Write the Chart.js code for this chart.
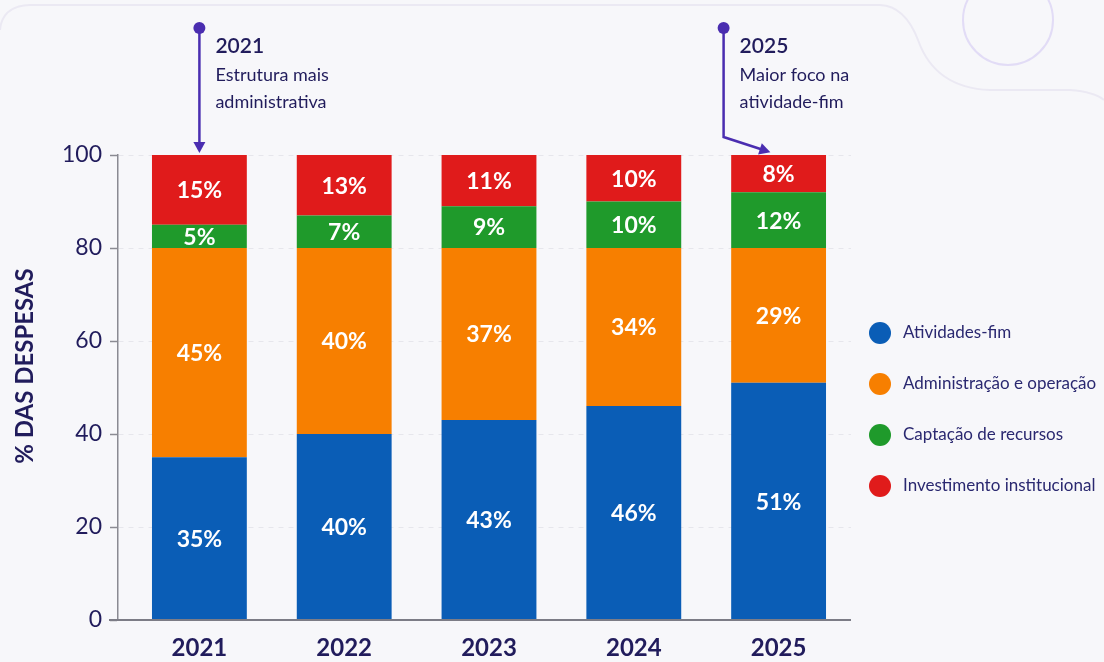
<!DOCTYPE html>
<html>
<head>
<meta charset="utf-8">
<script src="https://cdn.jsdelivr.net/npm/chart.js@4"></script>
<style>
  html, body { margin: 0; padding: 0; background: #f7f7fa; }
  #wrap { width: 1104px; height: 662px; }
</style>
</head>
<body>
<div id="wrap"><canvas id="despesasChart" width="1104" height="662"></canvas></div>
<script>
// Dados do gráfico
const anos = ['2021', '2022', '2023', '2024', '2025'];
const atividadesFim = [35, 40, 43, 46, 51];
const administracao = [45, 40, 37, 34, 29];
const captacao = [5, 7, 9, 10, 12];
const investimento = [15, 13, 11, 10, 8];
const yTicks = [0, 20, 40, 60, 80, 100];
const nomesSeries = ['Atividades-fim', 'Administração e operação', 'Captação de recursos', 'Investimento institucional'];
const notas = [
  { ano: '2021', titulo: '2021', linhas: ['Estrutura mais', 'administrativa'] },
  { ano: '2025', titulo: '2025', linhas: ['Maior foco na', 'atividade-fim'] }
];

const cores = ['#0a5db6', '#f77f00', '#1f9a2b', '#e01b1b'];
const navy = '#211c5c';
const roxo = '#4a2db0';
const fonte = 'Lato, "Open Sans", sans-serif';

// Fundo + enfeites
const fundoPlugin = {
  id: 'fundo',
  beforeDraw(chart) {
    const c = chart.ctx;
    c.save();
    c.fillStyle = '#f7f7fa';
    c.fillRect(0, 0, chart.width, chart.height);
    c.strokeStyle = '#ebe9f3';
    c.lineWidth = 2;
    c.beginPath();
    c.moveTo(0, 30);
    c.quadraticCurveTo(2, 6, 30, 5);
    c.lineTo(880, 5);
    c.quadraticCurveTo(905, 6, 918, 40);
    c.quadraticCurveTo(935, 88, 990, 90);
    c.lineTo(1070, 90);
    c.quadraticCurveTo(1095, 92, 1104, 100);
    c.stroke();
    c.strokeStyle = '#e2dcf6';
    c.beginPath();
    c.arc(1008, 20, 45, 0, Math.PI * 2);
    c.stroke();
    c.restore();
  },
  // as barras começam um pouco depois do eixo y
  afterLayout(chart) {
    const x = chart.scales.x;
    x.left = chart.chartArea.left + 9;
    x.configure();
  }
};

// Rótulos de porcentagem nas barras
const rotulosPlugin = {
  id: 'rotulos',
  afterDatasetsDraw(chart) {
    const c = chart.ctx;
    c.save();
    c.fillStyle = '#ffffff';
    c.font = 'bold 23px ' + fonte;
    c.textAlign = 'center';
    c.textBaseline = 'middle';
    chart.data.datasets.forEach((ds, i) => {
      chart.getDatasetMeta(i).data.forEach((el, j) => {
        c.fillText(ds.data[j] + '%', el.x, (el.y + el.base) / 2 + 1);
      });
    });
    c.restore();
  }
};

// Legenda, título do eixo e anotações
const extrasPlugin = {
  id: 'extras',
  afterDraw(chart) {
    const c = chart.ctx;
    const x = chart.scales.x;
    const y = chart.scales.y;
    c.save();

    // linha do eixo x
    const y0 = y.getPixelForValue(0);
    c.strokeStyle = '#7c7c86';
    c.lineWidth = 2;
    c.beginPath();
    c.moveTo(chart.chartArea.left - 9, y0);
    c.lineTo(x.right, y0);
    c.stroke();

    // título do eixo y
    c.translate(25, 366);
    c.rotate(-Math.PI / 2);
    c.fillStyle = navy;
    c.font = 'bold 24px ' + fonte;
    c.textAlign = 'center';
    c.textBaseline = 'middle';
    c.fillText('% DAS DESPESAS', 0, 0);
    c.setTransform(1, 0, 0, 1, 0, 0);

    // legenda
    const linhasLeg = [333, 384, 435, 486];
    c.font = '17px ' + fonte;
    c.textAlign = 'left';
    chart.data.datasets.forEach((ds, i) => {
      c.fillStyle = ds.backgroundColor;
      c.beginPath();
      c.arc(880, linhasLeg[i], 11, 0, Math.PI * 2);
      c.fill();
      c.fillStyle = '#2a2870';
      c.fillText(ds.label, 903, linhasLeg[i]);
    });

    // anotações
    const topo = y.getPixelForValue(100);
    notas.forEach((n, k) => {
      const cx = x.getPixelForValue(anos.indexOf(n.ano));
      const lx = k === 0 ? cx : cx - 55;
      c.strokeStyle = roxo;
      c.fillStyle = roxo;
      c.lineWidth = 2.5;
      c.beginPath();
      c.arc(lx, 28, 6, 0, Math.PI * 2);
      c.fill();
      c.beginPath();
      c.moveTo(lx, 28);
      let ax, ay, ang;
      if (k === 0) {
        ax = cx; ay = topo - 6;
        c.lineTo(ax, ay);
        ang = Math.PI / 2;
      } else {
        c.lineTo(lx, topo - 18);
        ax = cx - 12; ay = topo - 4;
        c.lineTo(ax, ay);
        ang = Math.atan2(ay - (topo - 18), ax - lx);
      }
      c.stroke();
      c.beginPath();
      c.moveTo(ax + 4 * Math.cos(ang), ay + 4 * Math.sin(ang));
      c.lineTo(ax - 7 * Math.cos(ang) + 6 * Math.sin(ang), ay - 7 * Math.sin(ang) - 6 * Math.cos(ang));
      c.lineTo(ax - 7 * Math.cos(ang) - 6 * Math.sin(ang), ay - 7 * Math.sin(ang) + 6 * Math.cos(ang));
      c.closePath();
      c.fill();

      c.fillStyle = navy;
      c.textAlign = 'left';
      c.textBaseline = 'middle';
      c.font = '600 21px ' + fonte;
      c.fillText(n.titulo, lx + 16, 46);
      c.font = '18px ' + fonte;
      n.linhas.forEach((t, m) => c.fillText(t, lx + 16, 75 + m * 27));
    });
    c.restore();
  }
};

const series = [atividadesFim, administracao, captacao, investimento];

new Chart(document.getElementById('despesasChart'), {
  type: 'bar',
  data: {
    labels: anos,
    datasets: series.map((d, i) => ({
      label: nomesSeries[i],
      data: d,
      backgroundColor: cores[i],
      borderWidth: 0,
      barPercentage: 0.655,
      categoryPercentage: 1
    }))
  },
  options: {
    responsive: false,
    animation: false,
    layout: { padding: { top: 155, right: 253, bottom: 0, left: 0 } },
    plugins: {
      legend: { display: false },
      tooltip: { enabled: false }
    },
    scales: {
      x: {
        stacked: true,
        grid: { display: false },
        border: { display: false },
        ticks: {
          color: navy,
          font: { family: fonte, size: 24, weight: 'bold' },
          padding: 6
        },
        afterFit(s) { s.height = 42; }
      },
      y: {
        stacked: true,
        min: 0,
        max: 100,
        afterBuildTicks(s) { s.ticks = yTicks.map(v => ({ value: v })); },
        grid: {
          color: '#e6e6ec',
          lineWidth: 1,
          tickColor: '#8a8a92',
          tickLength: 8,
          tickWidth: 1.5
        },
        border: { color: '#8a8a92', width: 1.5, dash: [5, 5] },
        ticks: {
          color: navy,
          font: { family: fonte, size: 23 },
          padding: 8
        },
        afterFit(s) { s.width = 118; }
      }
    }
  },
  plugins: [fundoPlugin, rotulosPlugin, extrasPlugin]
});
</script>
</body>
</html>
